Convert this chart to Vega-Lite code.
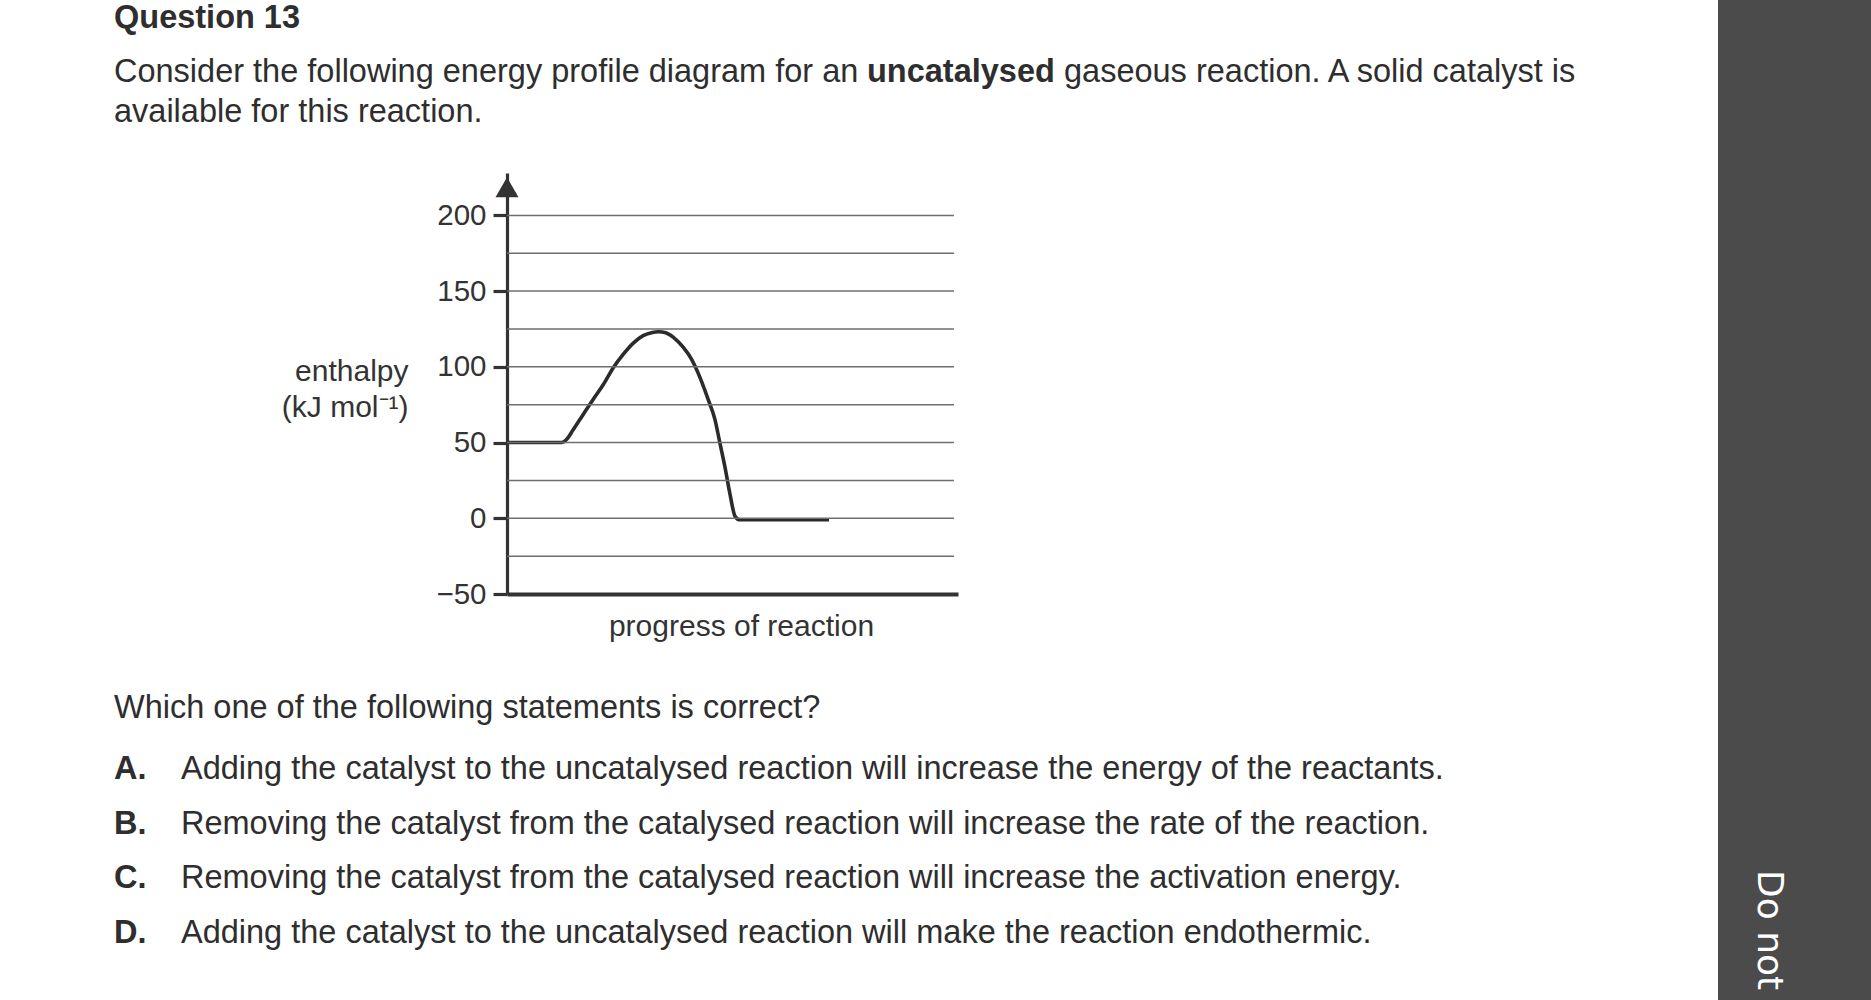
{
  "$schema": "https://vega.github.io/schema/vega-lite/v6.json",
  "width": 451,
  "height": 421,
  "autosize": {"type": "none"},
  "padding": {"left": 507, "top": 173, "right": 913, "bottom": 406},
  "background": "white",
  "config": {"view": {"stroke": null}, "font": "Liberation Sans"},
  "layer": [
    {
      "data": {"values": [
        {"progress": 0, "enthalpy": 50},
        {"progress": 12.1, "enthalpy": 50},
        {"progress": 13.2, "enthalpy": 52},
        {"progress": 14.7, "enthalpy": 58.6},
        {"progress": 16.9, "enthalpy": 68.6},
        {"progress": 19.1, "enthalpy": 78.5},
        {"progress": 21.4, "enthalpy": 88.5},
        {"progress": 23.6, "enthalpy": 99.6},
        {"progress": 25.8, "enthalpy": 108.4},
        {"progress": 28.0, "enthalpy": 115.7},
        {"progress": 30.2, "enthalpy": 120.6},
        {"progress": 32.0, "enthalpy": 122.5},
        {"progress": 33.6, "enthalpy": 123.2},
        {"progress": 35.2, "enthalpy": 122.5},
        {"progress": 36.9, "enthalpy": 119.5},
        {"progress": 39.1, "enthalpy": 112.8},
        {"progress": 40.9, "enthalpy": 105.1},
        {"progress": 42.8, "enthalpy": 92.9},
        {"progress": 44.6, "enthalpy": 78.5},
        {"progress": 46.1, "enthalpy": 65.3},
        {"progress": 47.2, "enthalpy": 49.8},
        {"progress": 48.3, "enthalpy": 34.3},
        {"progress": 49.4, "enthalpy": 16.6},
        {"progress": 50.6, "enthalpy": 1.1},
        {"progress": 51.6, "enthalpy": -1},
        {"progress": 71.4, "enthalpy": -1}
      ]},
      "mark": {"type": "line", "interpolate": "monotone", "color": "#2b2b2b", "strokeWidth": 3.6, "zindex": 2},
      "encoding": {
        "x": {
          "field": "progress", "type": "quantitative",
          "scale": {"domain": [0, 100], "nice": false, "zero": false},
          "axis": {
            "orient": "bottom", "ticks": false, "labels": false, "grid": false,
            "domainColor": "#333333", "domainWidth": 4,
            "title": "progress of reaction", "titleFontSize": 30, "titleFontWeight": "normal",
            "titleColor": "#333333", "titleX": 234, "titleY": 41,
            "titleBaseline": "alphabetic", "titleAlign": "center"
          }
        },
        "y": {
          "field": "enthalpy", "type": "quantitative",
          "scale": {"domain": [-50, 228], "nice": false, "zero": false},
          "axis": {
            "orient": "left", "values": [-50, 0, 50, 100, 150, 200], "grid": false,
            "domainColor": "#333333", "domainWidth": 3.2,
            "tickColor": "#333333", "tickWidth": 3.2, "tickSize": 14,
            "labelFontSize": 29.5, "labelColor": "#333333", "labelPadding": 7,
            "title": ["enthalpy", "(kJ mol⁻¹)"], "titleAngle": 0,
            "titleAlign": "right", "titleBaseline": "alphabetic",
            "titleX": -99, "titleY": 207, "titleFontSize": 30,
            "titleFontWeight": "normal", "titleColor": "#333333", "titleLineHeight": 36
          }
        }
      }
    },
    {
      "data": {"values": [
        {"level": -25}, {"level": 0}, {"level": 25}, {"level": 50}, {"level": 75},
        {"level": 100}, {"level": 125}, {"level": 150}, {"level": 175}, {"level": 200}
      ]},
      "mark": {"type": "rule", "color": "#6e6e6e", "strokeWidth": 1.5},
      "encoding": {
        "y": {"field": "level", "type": "quantitative", "scale": {"domain": [-50, 228], "nice": false, "zero": false}, "axis": null},
        "x": {"datum": 0, "type": "quantitative", "scale": {"domain": [0, 100], "nice": false, "zero": false}, "axis": null},
        "x2": {"datum": 99.1}
      }
    },
    {
      "data": {"values": [{"part": "arrow"}]},
      "mark": {"type": "point", "shape": "triangle-up", "filled": true, "size": 529, "color": "#333333", "opacity": 1},
      "encoding": {
        "x": {"datum": 0, "type": "quantitative", "scale": {"domain": [0, 100], "nice": false, "zero": false}, "axis": null},
        "y": {"datum": 218.6, "type": "quantitative", "scale": {"domain": [-50, 228], "nice": false, "zero": false}, "axis": null}
      }
    },
    {
      "encoding": {
        "x": {"datum": "left", "type": "nominal", "scale": {"type": "point", "domain": ["left", "indent"], "range": [-393, -326], "padding": 0}, "axis": null},
        "y": {"field": "line", "type": "nominal", "scale": {"type": "point", "domain": ["q", "l1", "l2"], "range": [-131, -51], "padding": 0}, "axis": null},
        "text": {"field": "text"}
      },
      "layer": [
        {
          "data": {"values": [{"line": "q", "text": "Question 13"}]},
          "mark": {"type": "text", "fontWeight": "bold", "fontSize": 32.5, "align": "left", "baseline": "alphabetic", "dy": -14, "color": "#2e2e2e"}
        },
        {
          "data": {"values": [
            {"line": "l1", "text": "Consider the following energy profile diagram for an"},
            {"line": "l2", "text": "available for this reaction."}
          ]},
          "mark": {"type": "text", "fontSize": 32.5, "align": "left", "baseline": "alphabetic", "color": "#2e2e2e"}
        },
        {
          "data": {"values": [{"line": "l1", "text": "uncatalysed"}]},
          "mark": {"type": "text", "fontWeight": "bold", "fontSize": 32.5, "align": "left", "baseline": "alphabetic", "dx": 753, "color": "#2e2e2e"}
        },
        {
          "data": {"values": [{"line": "l1", "text": "gaseous reaction. A solid catalyst is"}]},
          "mark": {"type": "text", "fontSize": 32.5, "align": "left", "baseline": "alphabetic", "dx": 950, "color": "#2e2e2e"}
        }
      ]
    },
    {
      "data": {"values": [
        {"line": "A", "letter": "A.", "statement": "Adding the catalyst to the uncatalysed reaction will increase the energy of the reactants."},
        {"line": "B", "letter": "B.", "statement": "Removing the catalyst from the catalysed reaction will increase the rate of the reaction."},
        {"line": "C", "letter": "C.", "statement": "Removing the catalyst from the catalysed reaction will increase the activation energy."},
        {"line": "D", "letter": "D.", "statement": "Adding the catalyst to the uncatalysed reaction will make the reaction endothermic."}
      ]},
      "encoding": {
        "y": {"field": "line", "type": "nominal", "scale": {"type": "point", "domain": ["prompt", "A", "B", "C", "D"], "range": [551.33, 770], "padding": 0}, "axis": null}
      },
      "layer": [
        {
          "data": {"values": [{"line": "prompt", "text": "Which one of the following statements is correct?"}]},
          "mark": {"type": "text", "fontSize": 32.5, "align": "left", "baseline": "alphabetic", "dy": -6, "color": "#2e2e2e"},
          "encoding": {
            "x": {"datum": "left", "type": "nominal", "scale": {"type": "point", "domain": ["left", "indent"], "range": [-393, -326], "padding": 0}, "axis": null},
            "text": {"field": "text"}
          }
        },
        {
          "mark": {"type": "text", "fontWeight": "bold", "fontSize": 32.5, "align": "left", "baseline": "alphabetic", "color": "#2e2e2e"},
          "encoding": {
            "x": {"datum": "left", "type": "nominal", "scale": {"type": "point", "domain": ["left", "indent"], "range": [-393, -326], "padding": 0}, "axis": null},
            "text": {"field": "letter"}
          }
        },
        {
          "mark": {"type": "text", "fontSize": 32.5, "align": "left", "baseline": "alphabetic", "color": "#2e2e2e"},
          "encoding": {
            "x": {"datum": "indent", "type": "nominal", "scale": {"type": "point", "domain": ["left", "indent"], "range": [-393, -326], "padding": 0}, "axis": null},
            "text": {"field": "statement"}
          }
        }
      ]
    },
    {
      "data": {"values": [{"panel": "margin", "note": "Do not"}]},
      "encoding": {
        "x": {"field": "panel", "type": "nominal", "scale": {"type": "band", "domain": ["margin"], "range": [1211, 1364], "paddingInner": 0, "paddingOuter": 0}, "axis": null},
        "y": {"field": "panel", "type": "nominal", "scale": {"type": "band", "domain": ["margin"], "range": [-173, 827], "paddingInner": 0, "paddingOuter": 0}, "axis": null}
      },
      "layer": [
        {"mark": {"type": "rect", "color": "#4b4b4b"}},
        {
          "mark": {"type": "text", "angle": 90, "align": "left", "baseline": "middle", "dx": 370, "dy": 26, "font": "DejaVu Sans", "fontSize": 36, "color": "#ffffff"},
          "encoding": {"text": {"field": "note"}}
        }
      ]
    }
  ],
  "resolve": {"scale": {"x": "independent", "y": "independent"}, "axis": {"x": "independent", "y": "independent"}}
}
